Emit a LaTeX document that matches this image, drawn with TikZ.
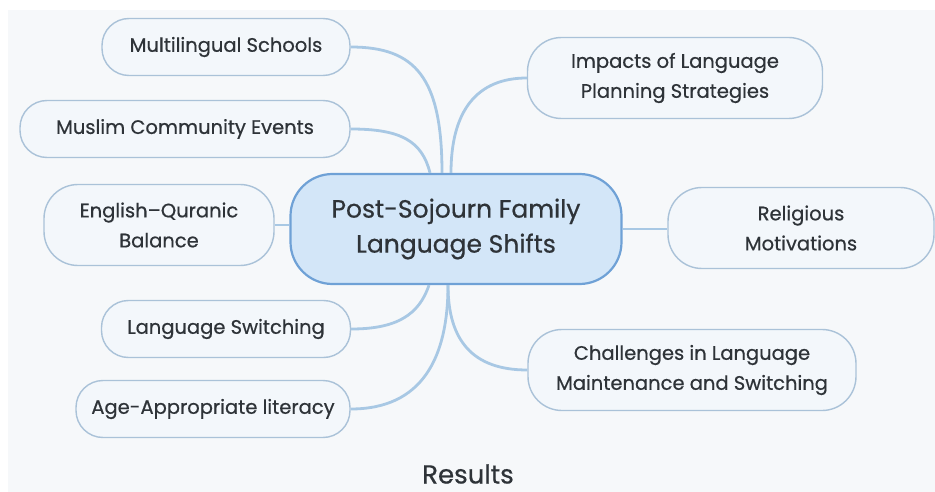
\documentclass[tikz,border=0pt]{standalone}
\usepackage{fontspec}
\setmainfont{Poppins}[UprightFeatures={FakeBold=0.6}]
\usepackage{tikz}
\usetikzlibrary{calc}
\usepackage{xcolor}
\definecolor{paper}{HTML}{F6F8FA}
\definecolor{leaffill}{HTML}{F3F7FB}
\definecolor{leafline}{HTML}{AAC2D8}
\definecolor{hubfill}{HTML}{D3E6F8}
\definecolor{hubline}{HTML}{6FA1D6}
\definecolor{branchcol}{HTML}{A8C8E4}
\definecolor{ink}{HTML}{2E3338}

\begin{document}
\begin{tikzpicture}[x=1pt,y=-1pt,
  leaf/.style={draw=leafline,line width=1.4pt,fill=leaffill,rounded corners=27pt,
    align=center,text=ink,font=\fontsize{19.5}{30}\selectfont,inner sep=0pt,minimum height=57pt},
  leaftwo/.style={leaf,rounded corners=34pt,minimum height=81pt},
  hub/.style={draw=hubline,line width=2.2pt,fill=hubfill,rounded corners=42pt,
    align=center,text=ink,font=\fontsize{25}{35}\selectfont,inner sep=0pt,
    minimum width=331pt,minimum height=110pt},
  branch/.style={draw=branchcol,line width=2.8pt}]
  \useasboundingbox (0,0) rectangle (935,492);
  \fill[white] (0,0) rectangle (935,492);
  \fill[paper] (8,10) rectangle (935,492);

  \node[hub] (hub) at (456,229) {Post-Sojourn Family\\Language Shifts};

  \node[leaf,minimum width=248pt] (schools) at (226,47) {Multilingual Schools};
  \node[leaf,minimum width=330pt] (events) at (185,129) {Muslim Community Events};
  \node[leaftwo,minimum width=230pt] (balance) at (159,225) {English--Quranic\\Balance};
  \node[leaf,minimum width=249pt] (switching) at (226,329) {Language Switching};
  \node[leaf,minimum width=274pt] (literacy) at (213,409) {Age-Appropriate literacy};

  \node[leaftwo,minimum width=295pt] (impacts) at (675,78) {Impacts of Language\\Planning Strategies};
  \node[leaftwo,minimum width=266pt] (religion) at (801,228) {Religious\\Motivations};
  \node[leaftwo,minimum width=328pt] (challenges) at (692,370) {Challenges in Language\\Maintenance and Switching};

  \node[text=ink,font=\fontsize{26}{30}\selectfont] (results) at (468,474) {Results};

  % branches above the hub
  \draw[branch] (schools.east) .. controls +(65,0) and +(0,-95) .. ([xshift=-14pt]hub.north);
  \draw[branch] (events.east) .. controls +(50,0) and +(-8,-32) .. ([xshift=-26pt]hub.north);
  \draw[branch] (impacts.west) .. controls +(-50,0) and +(0,-62) .. ([xshift=-5pt]hub.north);
  % straight ones
  \draw[branch] (balance.east) -- (balance.east -| hub.west);
  \draw[branch] (hub.east) -- (hub.east -| religion.west);
  % branches below the hub
  \draw[branch] (switching.east) .. controls +(45,0) and +(-10,30) .. ([xshift=-27pt]hub.south);
  \draw[branch] (literacy.east) .. controls +(72,0) and +(0,72) .. ([xshift=-8pt]hub.south);
  \draw[branch] (challenges.west) .. controls +(-55,0) and +(0,55) .. ([xshift=-8pt]hub.south);
\end{tikzpicture}
\end{document}
